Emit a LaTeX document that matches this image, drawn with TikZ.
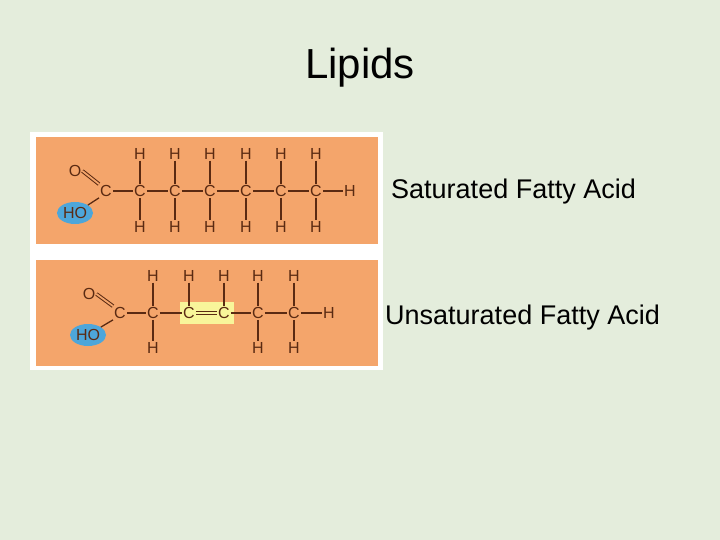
\documentclass[tikz,border=0pt]{standalone}
\usepackage{fontspec}
\usetikzlibrary{shapes.geometric}
\setmainfont{Liberation Sans}
\begin{document}
\begin{tikzpicture}[x=1pt,y=-1pt,
  atom/.style={text=brn,font=\fontsize{16}{16}\selectfont,inner sep=1pt},
  hobox/.style={ellipse,fill=hob,minimum width=36pt,minimum height=22pt,inner sep=0pt,text=brn,font=\fontsize{16}{16}\selectfont},
  bond/.style={draw=brn,line width=1.3pt},
  dbond/.style={draw=brn,double=org,double distance=1.8pt,line width=1pt},
  lbl/.style={font=\fontsize{27}{30}\selectfont,anchor=west,inner sep=0pt}]
\definecolor{bg}{HTML}{E4EDDC}
\definecolor{org}{HTML}{F4A56B}
\definecolor{brn}{HTML}{5A2A12}
\definecolor{hob}{HTML}{4DA6DA}
\definecolor{ylw}{HTML}{F8F59A}
\fill[bg] (0,0) rectangle (720,540);
\useasboundingbox (0,0) rectangle (720,540);
\node[font=\fontsize{42}{44}\selectfont] (title) at (360,68) {Lipids};
\fill[white] (30,132) rectangle (383,370);
\fill[org] (36,137) rectangle (378,244);
\fill[org] (36,260) rectangle (378,366);
% saturated
\node[atom] (o1) at (75,171) {O};
\node[hobox] (ho1) at (75,213) {HO};
\node[atom] (c0) at (106,191) {C};
\foreach \i/\x in {1/140,2/175,3/210,4/246,5/281,6/316}{
  \node[atom] (a\i) at (\x,191) {C};
  \node[atom] (t\i) at (\x,154) {H};
  \node[atom] (b\i) at (\x,227) {H};
  \draw[bond] (t\i) -- (a\i);
  \draw[bond] (a\i) -- (b\i);
}
\node[atom] (h1) at (350,191) {H};
\draw[bond] (c0)--(a1) (a1)--(a2) (a2)--(a3) (a3)--(a4) (a4)--(a5) (a5)--(a6) (a6)--(h1);
\draw[bond] (ho1.north east) -- (c0.south west);
\draw[dbond] (o1.east) -- (c0.north west);
\node[lbl] (sat) at (391,192) {Saturated Fatty Acid};
% unsaturated
\fill[ylw] (180,302) rectangle (234,324);
\node[atom] (o2) at (89,294) {O};
\node[hobox] (ho2) at (88,335) {HO};
\node[atom] (d0) at (120,313) {C};
\node[atom] (d1) at (153,313) {C};
\node[atom] (d2) at (189,313) {C};
\node[atom] (d3) at (224,313) {C};
\node[atom] (d4) at (258,313) {C};
\node[atom] (d5) at (294,313) {C};
\node[atom] (h2) at (329,313) {H};
\foreach \i/\x in {1/153,2/189,3/224,4/258,5/294}{
  \node[atom] (u\i) at (\x,276) {H};
  \draw[bond] (u\i) -- (d\i);
}
\foreach \i/\x in {1/153,4/258,5/294}{
  \node[atom] (l\i) at (\x,348) {H};
  \draw[bond] (d\i) -- (l\i);
}
\draw[bond] (d0)--(d1) (d1)--(d2) (d3)--(d4) (d4)--(d5) (d5)--(h2);
\draw[dbond,double=ylw,double distance=2.2pt] (d2)--(d3);
\draw[bond] (ho2.north east) -- (d0.south west);
\draw[dbond] (o2.east) -- (d0.north west);
\node[lbl] (uns) at (385,318) {Unsaturated Fatty Acid};
\end{tikzpicture}
\end{document}
